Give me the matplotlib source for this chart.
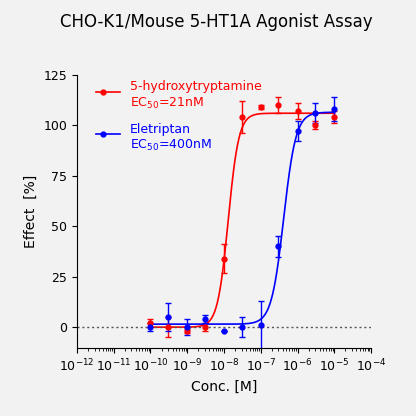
import numpy as np
import matplotlib.pyplot as plt
from matplotlib.ticker import LogLocator, NullFormatter

conc = np.array([1e-10,3e-10,1e-9,3e-9,1e-8,3e-8,1e-7,3e-7,1e-6,3e-6,1e-5])
red_y = [2,0,-2,0,34,104,109,110,107,100,104]
red_e = [2,5,1,2,7,8,1,4,4,2,3]
blue_y = [0,5,0,4,-2,0,1,40,97,106,108]
blue_e = [2,7,4,2,0,5,12,5,5,5,6]
red_fit = dict(bottom=0, top=106, ec50=1.3e-8, hill=3.0)
blue_fit = dict(bottom=1.5, top=106.5, ec50=4.2e-7, hill=2.6)

def hill(x, bottom, top, ec50, hill):
    return bottom + (top-bottom)/(1+(ec50/x)**hill)

fig = plt.figure(figsize=(4.16,4.16), dpi=100, facecolor='#f2f2f2')
ax = fig.add_axes([0.185, 0.163, 0.707, 0.657])
ax.set_facecolor('#f2f2f2')
xs = np.logspace(-10, -5, 400)
for y, e, f, c in [(red_y, red_e, red_fit, '#ff0000'), (blue_y, blue_e, blue_fit, '#0000ff')]:
    ax.errorbar(conc, y, yerr=e, fmt='o', color=c, ms=3.5, capsize=2.5, elinewidth=1, capthick=1)
    ax.plot(xs, hill(xs, **f), color=c, lw=1.2)
ax.axhline(0, color='#555555', ls=(0,(1.5,2)), lw=1)
ax.set_xscale('log')
ax.set_xlim(1e-12, 1e-4)
ax.set_ylim(-10.4, 125)
ax.set_yticks([0,25,50,75,100,125])
ax.set_xticks([10.0**k for k in range(-12,-3)])
ax.xaxis.set_minor_locator(LogLocator(base=10, subs=np.arange(2,10), numticks=100))
ax.xaxis.set_minor_formatter(NullFormatter())
for s in ['top','right']:
    ax.spines[s].set_visible(False)
ax.tick_params(labelsize=9)
ax.set_xlabel('Conc. [M]', fontsize=10)
ax.set_ylabel('Effect  [%]', fontsize=10)
fig.text(0.52, 0.935, 'CHO-K1/Mouse 5-HT1A Agonist Assay', ha='center', fontsize=12)
ax.plot([3.3e-12, 1.5e-11], [116.5,116.5], color='#ff0000', lw=1.2)
ax.plot([5e-12], [116.5], 'o', color='#ff0000', ms=3.5)
ax.text(2.8e-11, 119, '5-hydroxytryptamine', color='#ff0000', fontsize=9, va='center')
ax.text(2.8e-11, 111, 'EC$_{50}$=21nM', color='#ff0000', fontsize=9, va='center')
ax.plot([3.3e-12, 1.5e-11], [95.5,95.5], color='#0000ff', lw=1.2)
ax.plot([5e-12], [95.5], 'o', color='#0000ff', ms=3.5)
ax.text(2.8e-11, 98, 'Eletriptan', color='#0000ff', fontsize=9, va='center')
ax.text(2.8e-11, 90, 'EC$_{50}$=400nM', color='#0000ff', fontsize=9, va='center')
fig.savefig('out.png', dpi=100, facecolor=fig.get_facecolor())
